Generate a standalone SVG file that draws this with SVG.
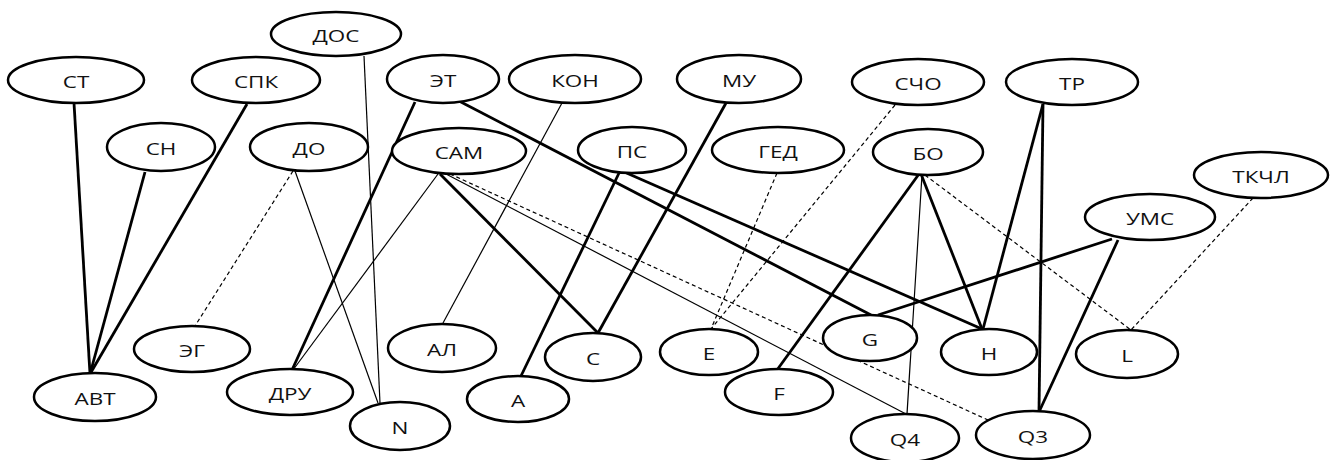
<svg xmlns="http://www.w3.org/2000/svg" width="1330" height="460" viewBox="0 0 1330 460">
  <style>
    .node ellipse { fill: #ffffff; stroke: #000000; stroke-width: 2.5; }
    .node text { font-family: "Open Sans", "Liberation Sans", sans-serif; font-size: 15.5px; fill: #111111; text-anchor: middle; }
    .thick { stroke: #000000; stroke-width: 2.8; fill: none; }
    .thin { stroke: #000000; stroke-width: 1.2; fill: none; }
    .dash { stroke: #000000; stroke-width: 1.2; fill: none; stroke-dasharray: 4 3; }
  </style>
  <rect width="1330" height="460" fill="#ffffff"/>

  <!-- links between factors -->
  <g id="connectors">
    <line class="thick" x1="74" y1="103" x2="90" y2="374"/>
    <line class="thick" x1="145" y1="172" x2="90" y2="374"/>
    <line class="thick" x1="247" y1="104" x2="90" y2="374"/>
    <line class="dash" x1="293" y1="171" x2="195" y2="326"/>
    <line class="thin" x1="295" y1="171" x2="378" y2="403"/>
    <line class="thin" x1="364" y1="56" x2="380" y2="403"/>
    <line class="thick" x1="415" y1="102" x2="292" y2="370"/>
    <line class="thin" x1="438" y1="174" x2="293" y2="370"/>
    <line class="thin" x1="562" y1="103" x2="443" y2="323"/>
    <line class="thick" x1="440" y1="174" x2="598" y2="333"/>
    <line class="thick" x1="726" y1="103" x2="598" y2="333"/>
    <line class="thick" x1="620" y1="171" x2="521" y2="376"/>
    <line class="thick" x1="459" y1="101" x2="871" y2="315"/>
    <line class="thick" x1="622" y1="171" x2="982" y2="329"/>
    <line class="dash" x1="777" y1="173" x2="711" y2="329"/>
    <line class="dash" x1="895" y1="105" x2="711" y2="329"/>
    <line class="thin" x1="446" y1="174" x2="906" y2="414"/>
    <line class="dash" x1="450" y1="174" x2="988" y2="420"/>
    <line class="thick" x1="919" y1="174" x2="777" y2="370"/>
    <line class="thin" x1="922" y1="175" x2="907" y2="414"/>
    <line class="thick" x1="921" y1="174" x2="982" y2="329"/>
    <line class="dash" x1="925" y1="175" x2="1131" y2="330"/>
    <line class="thick" x1="1043" y1="104" x2="983" y2="329"/>
    <line class="thick" x1="1043" y1="104" x2="1039" y2="412"/>
    <line class="thick" x1="1112" y1="239" x2="878" y2="315"/>
    <line class="thick" x1="1118" y1="240" x2="1039" y2="412"/>
    <line class="dash" x1="1253" y1="198" x2="1131" y2="330"/>
  </g>

  <!-- factors -->
  <g id="n-DOS" class="node"><ellipse cx="336" cy="34" rx="65" ry="22"/><text transform="translate(336 42) scale(1.45 1)">ДОС</text></g>
  <g id="n-ST" class="node"><ellipse cx="76" cy="80" rx="68" ry="23"/><text transform="translate(76 88) scale(1.45 1)">СТ</text></g>
  <g id="n-SPK" class="node"><ellipse cx="256" cy="80" rx="64" ry="23"/><text transform="translate(256 88) scale(1.45 1)">СПК</text></g>
  <g id="n-ET" class="node"><ellipse cx="443" cy="79" rx="56" ry="24"/><text transform="translate(443 87) scale(1.45 1)">ЭТ</text></g>
  <g id="n-KON" class="node"><ellipse cx="575" cy="79" rx="66" ry="24"/><text transform="translate(575 87) scale(1.45 1)">КОН</text></g>
  <g id="n-MU" class="node"><ellipse cx="739" cy="79" rx="62" ry="24"/><text transform="translate(739 87) scale(1.45 1)">МУ</text></g>
  <g id="n-SCHO" class="node"><ellipse cx="918" cy="82" rx="66" ry="23"/><text transform="translate(918 90) scale(1.45 1)">СЧО</text></g>
  <g id="n-TR" class="node"><ellipse cx="1072" cy="82" rx="66" ry="23"/><text transform="translate(1072 90) scale(1.45 1)">ТР</text></g>
  <g id="n-SN" class="node"><ellipse cx="161" cy="147" rx="54" ry="24"/><text transform="translate(161 155) scale(1.45 1)">СН</text></g>
  <g id="n-DO" class="node"><ellipse cx="309" cy="147" rx="59" ry="24"/><text transform="translate(309 155) scale(1.45 1)">ДО</text></g>
  <g id="n-SAM" class="node"><ellipse cx="459" cy="151" rx="67" ry="23"/><text transform="translate(459 159) scale(1.45 1)">САМ</text></g>
  <g id="n-PS" class="node"><ellipse cx="632" cy="150" rx="54" ry="23"/><text transform="translate(632 158) scale(1.45 1)">ПС</text></g>
  <g id="n-GED" class="node"><ellipse cx="778" cy="150" rx="66" ry="23"/><text transform="translate(778 158) scale(1.45 1)">ГЕД</text></g>
  <g id="n-BO" class="node"><ellipse cx="928" cy="152" rx="55" ry="23"/><text transform="translate(928 160) scale(1.45 1)">БО</text></g>
  <g id="n-TKCHL" class="node"><ellipse cx="1261" cy="175" rx="67" ry="23"/><text transform="translate(1261 183) scale(1.45 1)">ТКЧЛ</text></g>
  <g id="n-UMS" class="node"><ellipse cx="1150" cy="217" rx="65" ry="23"/><text transform="translate(1150 225) scale(1.45 1)">УМС</text></g>
  <g id="n-EG" class="node"><ellipse cx="192" cy="349" rx="58" ry="23"/><text transform="translate(192 357) scale(1.45 1)">ЭГ</text></g>
  <g id="n-AL" class="node"><ellipse cx="442" cy="348" rx="54" ry="24"/><text transform="translate(442 356) scale(1.45 1)">АЛ</text></g>
  <g id="n-C" class="node"><ellipse cx="593" cy="357" rx="48" ry="24"/><text transform="translate(593 365) scale(1.45 1)">C</text></g>
  <g id="n-E" class="node"><ellipse cx="709" cy="352" rx="49" ry="23"/><text transform="translate(709 360) scale(1.45 1)">E</text></g>
  <g id="n-G" class="node"><ellipse cx="870" cy="338" rx="47" ry="23"/><text transform="translate(870 346) scale(1.45 1)">G</text></g>
  <g id="n-H" class="node"><ellipse cx="989" cy="352" rx="48" ry="23"/><text transform="translate(989 360) scale(1.45 1)">H</text></g>
  <g id="n-L" class="node"><ellipse cx="1127" cy="354" rx="51" ry="24"/><text transform="translate(1127 362) scale(1.45 1)">L</text></g>
  <g id="n-AVT" class="node"><ellipse cx="95" cy="397" rx="61" ry="24"/><text transform="translate(95 405) scale(1.45 1)">АВТ</text></g>
  <g id="n-DRU" class="node"><ellipse cx="290" cy="392" rx="63" ry="23"/><text transform="translate(290 400) scale(1.45 1)">ДРУ</text></g>
  <g id="n-A" class="node"><ellipse cx="518" cy="399" rx="51" ry="23"/><text transform="translate(518 407) scale(1.45 1)">A</text></g>
  <g id="n-F" class="node"><ellipse cx="779" cy="392" rx="54" ry="23"/><text transform="translate(779 400) scale(1.45 1)">F</text></g>
  <g id="n-N" class="node"><ellipse cx="400" cy="426" rx="50" ry="24"/><text transform="translate(400 434) scale(1.45 1)">N</text></g>
  <g id="n-Q4" class="node"><ellipse cx="905" cy="438" rx="54" ry="24"/><text transform="translate(905 446) scale(1.45 1)">Q4</text></g>
  <g id="n-Q3" class="node"><ellipse cx="1033" cy="435" rx="57" ry="24"/><text transform="translate(1033 443) scale(1.45 1)">Q3</text></g>
</svg>
